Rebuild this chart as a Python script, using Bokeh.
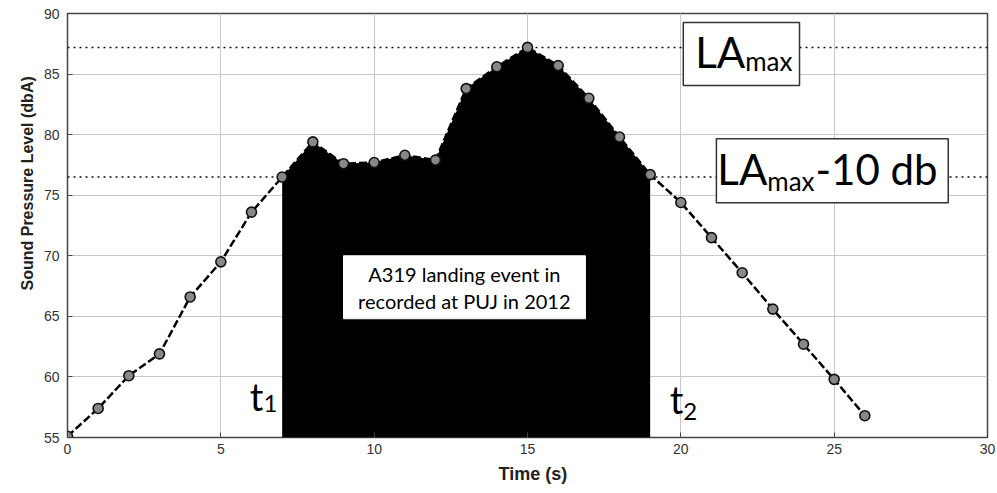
from bokeh.plotting import figure
from bokeh.models import Label, Span, FixedTicker, Title
from bokeh.embed import file_html
from bokeh.resources import INLINE

# ---- data ----
time_s = [0, 1, 2, 3, 4, 5, 6, 7, 8, 9, 10, 11, 12, 13, 14, 15, 16, 17, 18, 19, 20, 21, 22, 23, 24, 25, 26]
spl_dba = [55.1, 57.4, 60.1, 61.9, 66.6, 69.5, 73.6, 76.5, 79.4, 77.6, 77.7, 78.3, 77.9, 83.8, 85.6, 87.2,
           85.7, 83.0, 79.8, 76.7, 74.4, 71.5, 68.6, 65.6, 62.7, 59.8, 56.8]
t1_index = 7
t2_index = 19
la_max = 87.2
la_max_minus_10 = 76.5
x_ticks = [0, 5, 10, 15, 20, 25, 30]
y_ticks = [55, 60, 65, 70, 75, 80, 85, 90]
x_title = "Time (s)"
y_title = "Sound Pressure Level (dbA)"

FONT = "Lato"
AXFONT = "Liberation Sans"

p = figure(width=997, height=493, x_range=(0, 30), y_range=(55, 90),
           output_backend="svg", toolbar_location=None,
           min_border_left=67, min_border_right=10, min_border_top=13, min_border_bottom=56)
p.background_fill_color = "white"
p.border_fill_color = "white"
p.outline_line_color = "#444444"
p.outline_line_width = 1.5

p.xgrid.ticker = FixedTicker(ticks=x_ticks)
p.ygrid.ticker = FixedTicker(ticks=y_ticks)
p.grid.grid_line_color = "#c8c8c8"
p.grid.grid_line_width = 1

for ax in (p.xaxis[0], p.yaxis[0]):
    ax.major_tick_out = 0
    ax.major_tick_in = 5
    ax.minor_tick_out = 0
    ax.minor_tick_in = 0
    ax.axis_line_color = None
    ax.major_tick_line_color = "#444444"
    ax.major_label_text_font = AXFONT
    ax.major_label_text_font_size = "14px"
    ax.major_label_text_color = "#333333"

p.xaxis.ticker = FixedTicker(ticks=x_ticks)
p.yaxis.ticker = FixedTicker(ticks=y_ticks)
p.xaxis.major_label_standoff = 6
p.yaxis.major_label_standoff = 8

# axis titles as side titles (offset along the axis)
yt = Title(text=y_title, align="left", offset=147, text_font=AXFONT, text_font_size="16px",
           text_font_style="bold", text_color="#222222", standoff=9)
p.add_layout(yt, "left")
xt = Title(text=x_title, align="left", offset=431, text_font=AXFONT, text_font_size="18px",
           text_font_style="bold", text_color="#222222", standoff=10)
p.add_layout(xt, "below")

# dotted reference lines
for level in (la_max, la_max_minus_10):
    s = Span(location=level, dimension="width", line_color="#111111",
             line_dash="2 4", line_width=1.5, level="underlay")
    p.add_layout(s)

# filled event region between t1 and t2
fx = time_s[t1_index:t2_index + 1]
fy = spl_dba[t1_index:t2_index + 1]
p.varea(x=fx, y1=[55] * len(fx), y2=fy, fill_color="black")

# dashed line with circle markers
p.line(time_s, spl_dba, line_color="black", line_dash="8 3", line_width=2.5)
p.scatter(time_s, spl_dba, marker="circle", size=10, line_color="#111111",
          line_width=1.6, fill_color="#888888")

# annotation boxes (data coordinates)
p.quad(left=[20.08], right=[23.87], top=[89.26], bottom=[84.05],
       fill_color="white", line_color="#333333", line_width=1.5)
p.quad(left=[21.16], right=[28.72], top=[79.67], bottom=[74.38],
       fill_color="white", line_color="#333333", line_width=1.5)
p.quad(left=[9.0], right=[16.89], top=[70.0], bottom=[64.8],
       fill_color="white", line_color="white", line_width=1)

def lab(x, y, text, size, align="left"):
    p.add_layout(Label(x=x, y=y, text=text, text_font=FONT, text_font_size=size,
                       text_align=align, text_baseline="middle", text_color="#000000"))

# LAmax
lab(22.1, 86.80, "LA", "42px", align="right")
lab(22.1, 86.12, "max", "26px")
# LAmax-10 db
lab(22.82, 77.13, "LA", "42px", align="right")
lab(22.82, 76.20, "max", "26px")
lab(24.39, 77.13, "-10 db", "42px")
# event text
lab(12.94, 68.5, "A319 landing event in", "20px", align="center")
lab(12.94, 66.3, "recorded at PUJ in 2012", "20px", align="center")
# t1, t2
lab(6.39, 58.40, "t", "38px", align="right")
lab(6.39, 57.79, "1", "24px")
lab(20.08, 58.16, "t", "38px", align="right")
lab(20.08, 57.13, "2", "24px")

open("out.html", "w").write(file_html(p, INLINE))
